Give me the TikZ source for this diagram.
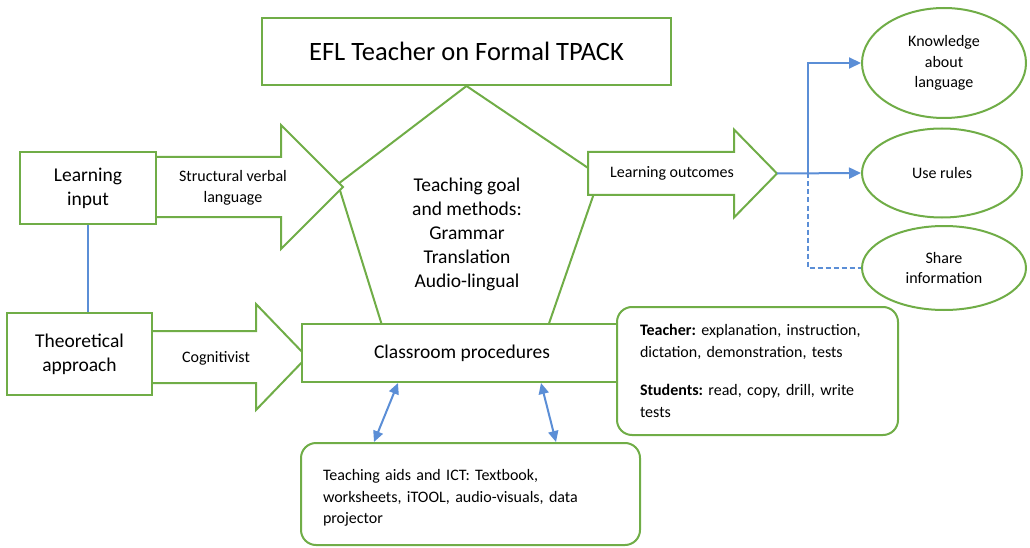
\documentclass[tikz,border=0pt]{standalone}
\usepackage{fontspec}
\setmainfont{Carlito}
\usepackage{tikz}
\usetikzlibrary{arrows.meta,shapes.geometric}
\definecolor{leafgreen}{HTML}{70AD47}
\definecolor{linkblue}{HTML}{5B8ED6}
\def\fatarrow[#1](#2,#3)(#4:#5:#6:#7){\draw[#1] (#2,#3-#4) -- (#5,#3-#4) -- (#5,#3-#6) -- (#7,#3) -- (#5,#3+#6) -- (#5,#3+#4) -- (#2,#3+#4) -- cycle;}
\newcommand\txttitle{\fontsize{26.5}{30}\selectfont}
\newcommand\txtbig{\fontsize{19.5}{24}\selectfont}
\newcommand\txtmid{\fontsize{16}{20.5}\selectfont}
\newcommand\txtsmall{\fontsize{16}{21}\selectfont}
\newcommand\txtlist{\fontsize{16}{21.5}\selectfont}
\frenchspacing

\begin{document}
\begin{tikzpicture}[x=1pt, y=-1pt,
	greenline/.style={draw=leafgreen, line width=2pt},
	box/.style={greenline, fill=white, inner sep=0pt, align=center},
	roundbox/.style={greenline, fill=white, rounded corners=15pt, align=left, font=\txtlist},
	oval/.style={greenline, ellipse, fill=white, inner sep=0pt, align=center, font=\txtmid},
	link/.style={draw=linkblue, line width=2pt, -{Triangle[length=12pt,width=11pt]}},
	twoway/.style={draw=linkblue, line width=2pt, {Triangle[length=11pt,width=10pt]}-{Triangle[length=11pt,width=10pt]}}]
			%%%%% START %%%%%
			\useasboundingbox (0,0) rectangle (1030,548);
			
			\node[box, minimum width=409pt, minimum height=67pt, font=\txttitle] (title) at (466.5,51.5) {EFL Teacher on Formal TPACK};
			
			% pentagon behind the arrows
			\draw[greenline] (title.south) -- (338,184) -- (385,335) -- (545,335) -- (600,176) -- cycle;
			\node[align=center, font=\txtbig] (goal) at (467,234) {Teaching goal\\and methods:\\Grammar\\Translation\\Audio-lingual};
			
			\fatarrow[greenline, fill=white](140,187)(30:281:62:343);
			\fatarrow[greenline, fill=white](140,357)(26:256:53:307);
			\fatarrow[greenline, fill=white](588,173.5)(21.5:734:44:777);
			
			\node[align=center, font=\txtsmall] (svl) at (233,187.5) {Structural verbal\\language};
			\node[font=\txtsmall] (cog) at (216,358) {Cognitivist};
			\node[font=\txtmid] (lo) at (672,173) {Learning outcomes};
			
			\node[box, minimum width=136pt, minimum height=72pt, font=\txtbig] (li) at (88,188) {Learning\\input};
			\node[box, minimum width=145pt, minimum height=82pt, font=\txtbig] (ta) at (79.5,354) {Theoretical\\approach};
			\node[box, minimum width=320pt, minimum height=58pt, font=\txtbig] (cp) at (462,353) {Classroom procedures};
			
			\node[roundbox, minimum width=281pt, minimum height=128pt, inner xsep=23pt, text width=235pt] (tasks) at (757.5,371) {\textbf{Teacher:} explanation, instruction,\\dictation, demonstration, tests\\[17pt]\textbf{Students:} read, copy, drill, write\\tests};
			\node[roundbox, minimum width=339pt, minimum height=102pt, inner xsep=22pt, text width=295pt] (aids) at (470.5,494) {\rule{0pt}{19pt}Teaching aids and ICT: Textbook,\\worksheets, iTOOL, audio-visuals, data\\projector};
			
			\node[oval, minimum width=164pt, minimum height=110pt] (know) at (944,63) {Knowledge\\about\\language};
			\node[oval, minimum width=160pt, minimum height=89pt] (use) at (942,173) {Use rules};
			\node[oval, minimum width=164pt, minimum height=84pt] (share) at (944,268) {Share\\information};
			
			\draw[draw=linkblue, line width=2pt] (li.south) -- (li.south |- ta.north);
			
			\coordinate (lotip) at (777,173.5);
			\coordinate (fork) at (808,173.5);
			\draw[link] (lotip) -- (use.west);
			\draw[link] (fork) |- (know.west);
			\draw[draw=linkblue, line width=2pt, dash pattern=on 5pt off 3pt] (fork) |- (share.west);
			
			\draw[twoway] ([xshift=74pt]aids.north west) -- ([xshift=97pt]cp.south west);
			\draw[twoway] ([xshift=256pt]aids.north west) -- ([xshift=240pt]cp.south west);
			%%%%% END %%%%%
\end{tikzpicture}
\end{document}
